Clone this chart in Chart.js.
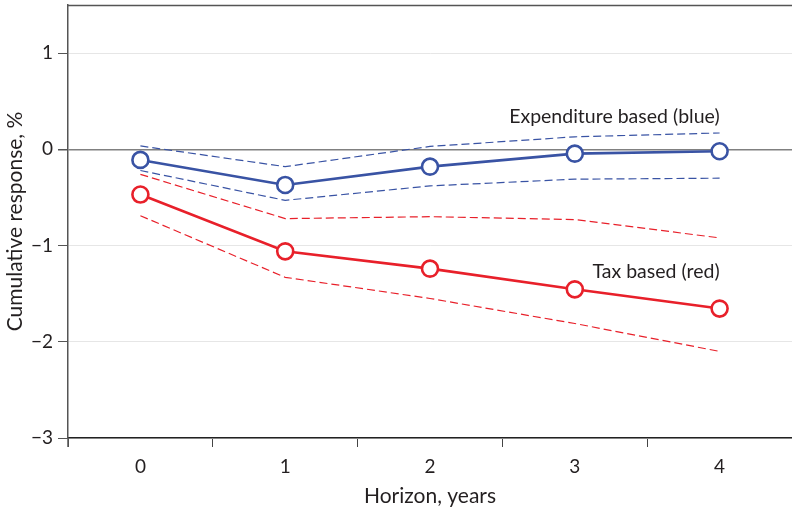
<!DOCTYPE html>
<html lang="en">
<head>
  <meta charset="UTF-8">
  <title>Cumulative response by horizon</title>
  <script src="https://cdn.jsdelivr.net/npm/chart.js"></script>
  <style>
    html, body { margin: 0; padding: 0; background: #fff; }
    #wrap { width: 792px; height: 509px; }
  </style>
</head>
<body>
  <div id="wrap"><canvas id="chart" width="792" height="509"></canvas></div>

  <script>
    const horizons = ['0', '1', '2', '3', '4'];
    const yTicks = [-3, -2, -1, 0, 1];

    // expenditure based (blue): estimate and bands
    const blueMid = [-0.11, -0.37, -0.18, -0.045, -0.02];
    const blueUp  = [0.035, -0.18, 0.03, 0.13, 0.17];
    const blueLo  = [-0.22, -0.53, -0.38, -0.31, -0.30];

    // tax based (red): estimate and bands
    const redMid = [-0.47, -1.06, -1.24, -1.455, -1.655];
    const redUp  = [-0.26, -0.72, -0.70, -0.73, -0.92];
    const redLo  = [-0.69, -1.33, -1.55, -1.81, -2.10];

    const notes = [
      { text: 'Expenditure based (blue)', x: 4, y: 0.34 },
      { text: 'Tax based (red)', x: 4, y: -1.27 }
    ];

    const BLUE = '#3953a4';
    const RED = '#e8202a';
    const FONT = 'Lato, "Open Sans", sans-serif';

    function band(data, color) {
      return {
        data: data,
        borderColor: color,
        borderWidth: 1.2,
        borderDash: [8, 4],
        pointRadius: 0,
        fill: false,
        tension: 0
      };
    }

    function mid(data, color) {
      return {
        data: data,
        borderColor: color,
        borderWidth: 2.6,
        pointRadius: 8,
        pointBorderWidth: 2.6,
        pointBackgroundColor: '#fff',
        pointBorderColor: color,
        fill: false,
        tension: 0
      };
    }

    function noPad(scale) {
      scale.paddingTop = 0;
      scale.paddingBottom = 0;
      scale.paddingLeft = 0;
      scale.paddingRight = 0;
    }

    const extras = {
      id: 'extras',
      afterDraw(chart) {
        const { ctx, chartArea, scales } = chart;
        ctx.save();
        // top frame line and the small stub of the y axis below -3
        ctx.strokeStyle = '#555';
        ctx.lineWidth = 1.5;
        ctx.beginPath();
        ctx.moveTo(chartArea.left, chartArea.top + 0.5);
        ctx.lineTo(chartArea.right, chartArea.top + 0.5);
        ctx.moveTo(chartArea.left, chartArea.bottom);
        ctx.lineTo(chartArea.left, chartArea.bottom + 9);
        ctx.stroke();
        // labels next to the lines
        ctx.fillStyle = '#231f20';
        ctx.font = '19.5px ' + FONT;
        ctx.textAlign = 'right';
        ctx.textBaseline = 'middle';
        notes.forEach(n => {
          ctx.fillText(n.text, scales.x.getPixelForValue(n.x), scales.y.getPixelForValue(n.y));
        });
        ctx.restore();
      }
    };

    new Chart(document.getElementById('chart'), {
      type: 'line',
      data: {
        labels: horizons,
        datasets: [
          band(blueUp, BLUE),
          band(blueLo, BLUE),
          band(redUp, RED),
          band(redLo, RED),
          mid(redMid, RED),
          mid(blueMid, BLUE)
        ]
      },
      options: {
        responsive: false,
        animation: false,
        layout: { autoPadding: false, padding: { top: 5, right: 0, left: 0, bottom: 0 } },
        plugins: {
          legend: { display: false },
          tooltip: { enabled: false }
        },
        scales: {
          x: {
            type: 'category',
            offset: true,
            grid: {
              offset: true,
              drawOnChartArea: false,
              tickLength: 9,
              tickColor: '#444'
            },
            border: { color: '#222', width: 1.5 },
            ticks: { color: '#231f20', font: { size: 19, family: FONT }, padding: 8 },
            title: {
              display: true,
              text: 'Horizon, years',
              color: '#231f20',
              font: { size: 21, family: FONT },
              padding: { top: 4, bottom: 0 }
            },
            afterFit(scale) { scale.height = 71; noPad(scale); }
          },
          y: {
            min: -3,
            max: 1.5,
            afterBuildTicks(scale) { scale.ticks = yTicks.map(v => ({ value: v })); },
            grid: {
              color: ctx => ctx.tick && ctx.tick.value === 0 ? '#808080' : '#e6e6e6',
              lineWidth: ctx => ctx.tick && ctx.tick.value === 0 ? 1.5 : 1,
              tickLength: 10,
              tickColor: '#555'
            },
            border: { color: '#555', width: 1.5 },
            ticks: {
              color: '#231f20',
              font: { size: 19, family: FONT },
              padding: 5,
              callback: v => v < 0 ? '\u2212' + Math.abs(v) : String(v)
            },
            title: {
              display: true,
              text: 'Cumulative response, %',
              color: '#231f20',
              font: { size: 21, family: FONT },
              padding: { top: 3, bottom: 0 }
            },
            afterFit(scale) { scale.width = 68; noPad(scale); }
          }
        }
      },
      plugins: [extras]
    });
  </script>
</body>
</html>
